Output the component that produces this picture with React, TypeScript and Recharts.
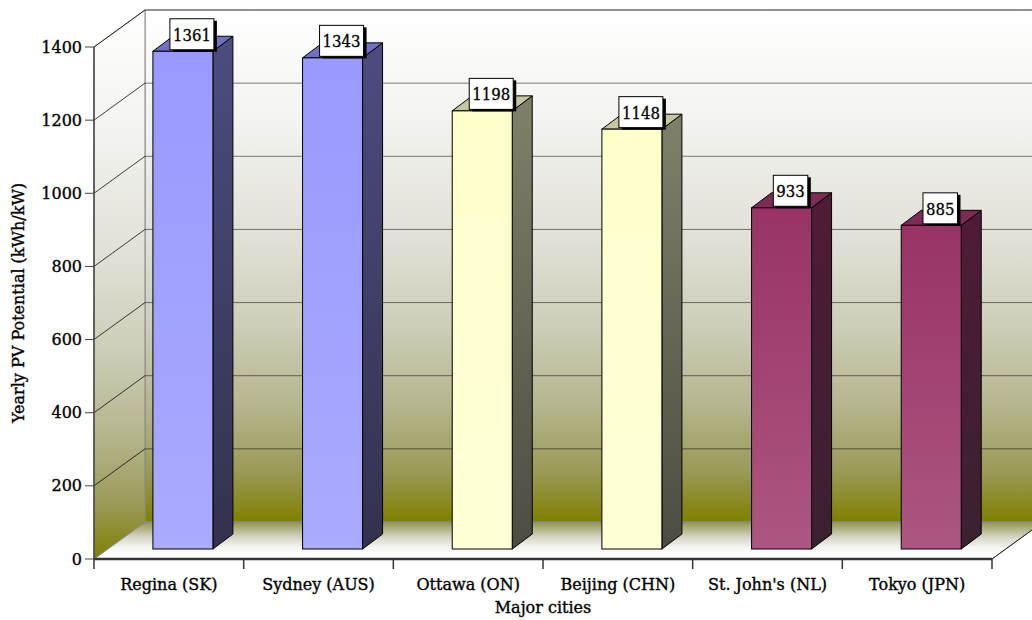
import { BarChart, Bar, XAxis, YAxis, CartesianGrid, ReferenceArea, LabelList, Label } from "recharts";

const cities = ["Regina (SK)", "Sydney (AUS)", "Ottawa (ON)", "Beijing (CHN)", "St. John's (NL)", "Tokyo (JPN)"];
const potential = [1361, 1343, 1198, 1148, 933, 885];
const yTicks = [0, 200, 400, 600, 800, 1000, 1200, 1400];

const data = cities.map((city, i) => ({ city, value: potential[i] }));

// depth of the 3d box, and where the bars sit inside it
const WALL_DX = 51;
const WALL_DY = 37;
const BAR_SHIFT_X = 14;
const BAR_SHIFT_Y = 10;
const BAR_DX = 20;
const BAR_DY = 15;

const FONT = "'DejaVu Serif', serif";
// a hairline stroke makes the regular face look a bit heavier, like the original
const ink = { fill: "#000", stroke: "#000", strokeWidth: 0.35 };

const blue = { front: ["#9999ff", "#aaaaff"], side: ["#4c4c80", "#32324e"], top: "#7171c0" };
const cream = { front: ["#ffffcc", "#ffffd8"], side: ["#80806a", "#4c4c42"], top: "#c6c6a2" };
const plum = { front: ["#993366", "#ac5681"], side: ["#4f1b35", "#3a2130"], top: "#7c2b54" };
const palettes = [blue, blue, cream, cream, plum, plum];

function Walls(props: any) {
  const { x, y, width, height } = props;
  const l = x, r = x + width, t = y, b = y + height;
  const stops = [
    ["0", "#ffffff"],
    ["0.22", "#f3f3f0"],
    ["0.45", "#e0e0d6"],
    ["0.62", "#cdcdb8"],
    ["0.78", "#b4b48c"],
    ["0.9", "#9a9a58"],
    ["1", "#808000"],
  ];
  return (
    <g>
      <defs>
        <linearGradient id="wallGrad" gradientUnits="userSpaceOnUse" x1="0" y1={t - WALL_DY} x2="0" y2={b - WALL_DY}>
          {stops.map(([o, c]) => <stop key={o} offset={o} stopColor={c} />)}
        </linearGradient>
        <linearGradient id="sideGrad" gradientUnits="userSpaceOnUse" x1="0" y1={t - WALL_DY} x2="0" y2={b}>
          {stops.map(([o, c]) => <stop key={o} offset={o} stopColor={c} />)}
        </linearGradient>
        <linearGradient id="floorGrad" gradientUnits="userSpaceOnUse" x1="0" y1={b - WALL_DY} x2="0" y2={b}>
          <stop offset="0" stopColor="#949450" />
          <stop offset="0.4" stopColor="#d4d4c4" />
          <stop offset="0.7" stopColor="#f6f6f4" />
          <stop offset="1" stopColor="#ffffff" />
        </linearGradient>
      </defs>
      <rect x={l + WALL_DX} y={t - WALL_DY} width={width} height={height} fill="url(#wallGrad)" stroke="#888" />
      <polygon
        points={`${l},${b} ${l},${t} ${l + WALL_DX},${t - WALL_DY} ${l + WALL_DX},${b - WALL_DY}`}
        fill="url(#sideGrad)"
        stroke="#888"
      />
      <polygon
        points={`${l},${b} ${r},${b} ${r + WALL_DX},${b - WALL_DY} ${l + WALL_DX},${b - WALL_DY}`}
        fill="url(#floorGrad)"
        stroke="#888"
      />
      <line x1={r} y1={b} x2={r + WALL_DX} y2={b - WALL_DY} stroke="#222" />
    </g>
  );
}

const gridLine = (p: any) => {
  const { x1, y1, x2, index } = p;
  const isFloor = typeof p.y === "number" && Math.abs(y1 - (p.y + p.height)) < 0.5;
  const back = isFloor ? "#8a8a8a" : "rgba(0,0,0,0.5)";
  const side = isFloor ? "#8a8a8a" : "rgba(0,0,0,0.75)";
  return (
    <g key={`h-${index}-${y1}`}>
      <line x1={x1} y1={y1} x2={x1 + WALL_DX} y2={y1 - WALL_DY} stroke={side} />
      <line x1={x1 + WALL_DX} y1={y1 - WALL_DY} x2={x2 + WALL_DX} y2={y1 - WALL_DY} stroke={back} />
    </g>
  );
};

function Bar3D(props: any) {
  const { x, y, width, height, index } = props;
  const p = palettes[index % palettes.length];
  const fx = x + BAR_SHIFT_X;
  const fy = y - BAR_SHIFT_Y;
  const fb = y + height - BAR_SHIFT_Y;
  const fr = fx + width;
  return (
    <g>
      <defs>
        <linearGradient id={`front${index}`} x1="0" y1="0" x2="0" y2="1">
          <stop offset="0" stopColor={p.front[0]} />
          <stop offset="1" stopColor={p.front[1]} />
        </linearGradient>
        <linearGradient id={`side${index}`} x1="0" y1="0" x2="0" y2="1">
          <stop offset="0" stopColor={p.side[0]} />
          <stop offset="1" stopColor={p.side[1]} />
        </linearGradient>
      </defs>
      <polygon
        points={`${fr},${fy} ${fr + BAR_DX},${fy - BAR_DY} ${fr + BAR_DX},${fb - BAR_DY} ${fr},${fb}`}
        fill={`url(#side${index})`}
        stroke="#000"
        strokeLinejoin="round"
      />
      <polygon
        points={`${fx},${fy} ${fr},${fy} ${fr + BAR_DX},${fy - BAR_DY} ${fx + BAR_DX},${fy - BAR_DY}`}
        fill={p.top}
        stroke="#000"
        strokeLinejoin="round"
      />
      <rect x={fx} y={fy} width={width} height={height} fill={`url(#front${index})`} stroke="#000" />
    </g>
  );
}

function ValueBox(props: any) {
  const { x, y, width, value } = props;
  const text = String(value);
  const textLen = text.length * 9.5;
  const w = textLen + 6;
  const h = 31;
  const cx = Number(x) + Number(width) / 2 + BAR_SHIFT_X + 9;
  const bottom = Number(y) - BAR_SHIFT_Y - 1.5;
  return (
    <g>
      <rect x={cx - w / 2 + 3} y={bottom - h + 2} width={w} height={h} fill="#000" />
      <rect x={cx - w / 2} y={bottom - h} width={w} height={h} fill="#fff" stroke="#000" />
      <text
        x={cx}
        y={bottom - h / 2 + 6.5}
        textAnchor="middle"
        fontFamily={FONT}
        fontSize={17.5}
        textLength={textLen}
        lengthAdjust="spacingAndGlyphs"
        {...ink}
      >
        {text}
      </text>
    </g>
  );
}

function CityTick(props: any) {
  const { x, y, payload, index } = props;
  const axisY = y - 8;
  const off = payload && typeof payload.offset === "number" ? payload.offset : 0;
  return (
    <g>
      {index === 0 && off > 0 && <line x1={x - off} y1={axisY} x2={x - off} y2={axisY + 10} stroke="#333" strokeWidth={1.5} />}
      {off > 0 && <line x1={x + off} y1={axisY} x2={x + off} y2={axisY + 10} stroke="#333" strokeWidth={1.5} />}
      <text x={x} y={axisY + 31} textAnchor="middle" fontFamily={FONT} fontSize={16} {...ink}>
        {payload.value}
      </text>
    </g>
  );
}

function ValueTick(props: any) {
  const { x, y, payload } = props;
  return (
    <text x={x} y={y + 5.5} textAnchor="end" fontFamily={FONT} fontSize={16} {...ink}>
      {payload.value}
    </text>
  );
}

const YTitle = (props: any) => {
  const vb = props.viewBox || {};
  const cx = (vb.x ?? 0) + 18;
  const cy = (vb.y ?? 0) + (vb.height ?? 0) / 2;
  return (
    <text
      x={cx}
      y={cy}
      transform={`rotate(-90 ${cx} ${cy})`}
      textAnchor="middle"
      dominantBaseline="central"
      fontFamily={FONT}
      fontSize={16}
      {...ink}
    >
      Yearly PV Potential (kWh/kW)
    </text>
  );
};

const XTitle = (props: any) => {
  const vb = props.viewBox || {};
  const cx = (vb.x ?? 0) + (vb.width ?? 0) / 2;
  const by = (vb.y ?? 0) + 54;
  return (
    <text x={cx} y={by} textAnchor="middle" fontFamily={FONT} fontSize={16} {...ink}>
      Major cities
    </text>
  );
};

export default function App() {
  return (
    <div style={{ width: 1032, height: 620, background: "#fff" }}>
      <style>{"body{margin:0}"}</style>
      <BarChart width={1032} height={620} data={data} margin={{ top: 47, right: 40, bottom: 0, left: 0 }} barCategoryGap="30%">
        <ReferenceArea y1={0} y2={1400} shape={<Walls />} zIndex={-200} ifOverflow="visible" />
        <CartesianGrid vertical={false} horizontal={gridLine} zIndex={-100} />
        <XAxis
          dataKey="city"
          height={61}
          interval={0}
          axisLine={{ stroke: "#333", strokeWidth: 2.5 }}
          tickLine={false}
          tick={<CityTick />}
        >
          <Label content={XTitle} />
        </XAxis>
        <YAxis
          domain={[0, 1400]}
          ticks={yTicks}
          interval={0}
          width={94}
          axisLine={{ stroke: "#444", strokeWidth: 1.5 }}
          tickLine={{ stroke: "#444" }}
          tickSize={9}
          tickMargin={3}
          tick={<ValueTick />}
        >
          <Label content={YTitle} />
        </YAxis>
        <Bar dataKey="value" shape={<Bar3D />} isAnimationActive={false}>
          <LabelList dataKey="value" content={<ValueBox />} />
        </Bar>
      </BarChart>
    </div>
  );
}
